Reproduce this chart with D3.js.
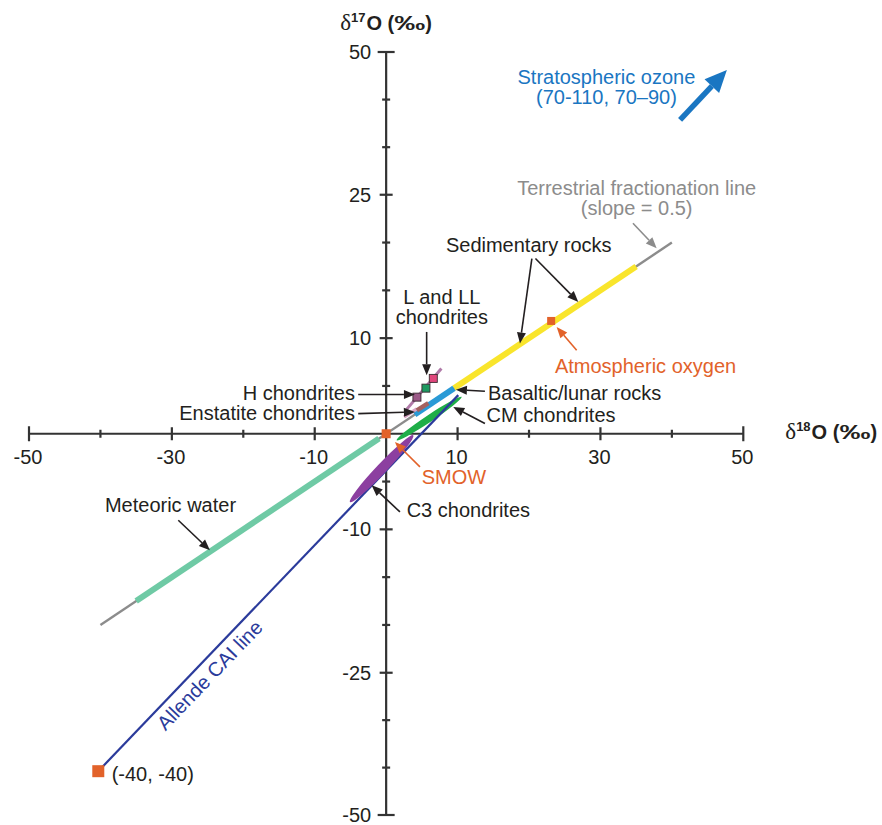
<!DOCTYPE html>
<html><head><meta charset="utf-8">
<script src="https://cdn.jsdelivr.net/npm/d3@7"></script>
<style>
body{margin:0;background:#fff}
svg{display:block}
text{font-family:"Liberation Sans",Arial,Helvetica,sans-serif}
</style>
</head><body>
<svg id="c" width="882" height="825"></svg>
<script>
// ---------- axis ticks ----------
const xMajorTicks = [-50, -30, -10, 10, 30, 50];
const xMinorTicks = [-40, -20, 20, 40];
const yMajorTicks = [-50, -25, -10, 10, 25, 50];
const yMinorTicks = [-41.67, -33.33, -20, -15, -5, 5, 15, 20, 33.33, 41.67];

// ---------- lines: [ [δ18O, δ17O], [δ18O, δ17O] ] ----------
const terrestrialLine = [[-40, -20], [40, 20]];
const meteoricWater = [[-35, -17.5], [-1, -0.5]];
const sedimentaryRocks = [[9.5, 4.75], [35, 17.5]];
const basalticLunar = [[4, 2], [9.5, 4.75]];
const allendeCAI = [[-40.3, -42.3], [10.1, 4.04]];
const enstatitePink = [[2.5, 1.75], [4.3, 2.6]];
const enstatiteBrown = [[4.3, 2.45], [5.9, 3.2]];
const ordinaryChondriteLine = [[2.87, 2.55], [7.73, 6.82]];
const cmChondrites = [[1.47, -0.68], [10.57, 3.86]];
const c3Chondrites = [[-5.07, -7.15], [3.8, -0.16]];
const ozoneArrow = [[41.15, 38.1], [47.7, 46.85]];

// ---------- points ----------
const orangePoints = [
  {name: "SMOW", x: 0, y: 0},
  {name: "Atmospheric oxygen", x: 23.1, y: 11.8},
  {name: "CAI end", x: -40.3, y: -42.3}
];
const chondritePoints = [
  {name: "H", x: 4.31, y: 3.83},
  {name: "L", x: 5.57, y: 4.77},
  {name: "LL", x: 6.6, y: 5.79}
];

// ---------- annotation labels (data coords) ----------
const labelTexts = [
  {t: ["Stratospheric ozone", "(70-110, 70–90)"], x: 30.84, y: 44.4, a: "middle", c: "ozone"},
  {t: ["Terrestrial fractionation line", "(slope = 0.5)"], x: 35.07, y: 24.95, a: "middle", c: "gray"},
  {t: ["Sedimentary rocks"], x: 8.37, y: 19.02, a: "start", c: "black"},
  {t: ["Atmospheric oxygen"], x: 23.63, y: 6.33, a: "start", c: "orange"},
  {t: ["L and LL", "chondrites"], x: 7.8, y: 13.62, a: "middle", c: "black"},
  {t: ["H chondrites"], x: -4.37, y: 3.58, a: "end", c: "black"},
  {t: ["Enstatite chondrites"], x: -4.37, y: 1.41, a: "end", c: "black"},
  {t: ["Basaltic/lunar rocks"], x: 14.25, y: 3.5, a: "start", c: "black"},
  {t: ["CM chondrites"], x: 14.06, y: 1.2, a: "start", c: "black"},
  {t: ["SMOW"], x: 4.97, y: -5.21, a: "start", c: "orange"},
  {t: ["C3 chondrites"], x: 2.87, y: -8.7, a: "start", c: "black"},
  {t: ["Meteoric water"], x: -39.37, y: -8.18, a: "start", c: "black"},
  {t: ["(-40, -40)"], x: -38.43, y: -43.96, a: "start", c: "black"}
];
const arrowList = [
  {p: [[20.4, 18.33], [18.73, 9.44]], c: "black"},
  {p: [[20.9, 18.33], [26.9, 13.79]], c: "black"},
  {p: [[26.67, 8.73], [23.87, 11.17]], c: "orange"},
  {p: [[5.67, 10.65], [5.67, 6.12]], c: "black"},
  {p: [[-3.91, 4.1], [4.03, 4.1]], c: "black"},
  {p: [[-3.91, 2.11], [4.03, 2.28]], c: "black"},
  {p: [[13.83, 4.45], [9.77, 4.6]], c: "black"},
  {p: [[13.83, 1.07], [9.39, 2.8]], c: "black"},
  {p: [[4.73, -3.47], [1.23, -0.86]], c: "orange"},
  {p: [[1.93, -8.18], [-2.03, -5.39]], c: "black"},
  {p: [[-29.1, -9.05], [-24.67, -12.19]], c: "black"},
  {p: [[34.55, 22.02], [37.87, 19.4]], c: "gray"}
];
const caiLabel = {t: "Allende CAI line", x: -24.0, y: -26.27};

// ---------- styles ----------
const COL = {
  black: "#231f20", gray: "#8c8c8c", orange: "#e2622a", ozone: "#1a76c2",
  teal: "#6fcaa5", yellow: "#f9e52c", basalt: "#2a9ad6", cai: "#2b3b9b",
  cm: "#1fae48", c3: "#8c3fa0", pink: "#d9a3c4", brown: "#a4625f", mauve: "#b07aa8",
  H: "#9c5a88", L: "#1e9960", LL: "#e0467c", axis: "#333"
};

const svg = d3.select("#c");
const x = d3.scaleLinear().domain([-50, 50]).range([29, 743.3]);
const y = d3.scaleLinear().domain([-50, -25, 25, 50]).range([815, 672.75, 194.75, 52]);
const x0 = x(0), y0 = y(0);

// ---------- axes ----------
const ax = svg.append("g").attr("stroke", COL.axis).attr("stroke-width", 2.2);
ax.append("line").attr("x1", x(-50)).attr("x2", x(50)).attr("y1", y0).attr("y2", y0);
ax.append("line").attr("x1", x0).attr("x2", x0).attr("y1", y(50)).attr("y2", y(-50));
xMajorTicks.forEach(v => {
  const h = Math.abs(v) === 50 ? 7.5 : 6.5;
  ax.append("line").attr("x1", x(v)).attr("x2", x(v)).attr("y1", y0 - h).attr("y2", y0 + h);
});
xMinorTicks.forEach(v => ax.append("line").attr("x1", x(v)).attr("x2", x(v)).attr("y1", y0 - 4).attr("y2", y0 + 4));
yMajorTicks.forEach(v => {
  const h = Math.abs(v) === 50 ? 8.5 : 6.5;
  ax.append("line").attr("y1", y(v)).attr("y2", y(v)).attr("x1", x0 - h).attr("x2", x0 + h);
});
yMinorTicks.forEach(v => ax.append("line").attr("y1", y(v)).attr("y2", y(v)).attr("x1", x0 - 4).attr("x2", x0 + 4));

const tl = svg.append("g").attr("fill", COL.black).attr("font-size", 20);
xMajorTicks.forEach(v => tl.append("text").attr("x", x(v) - 1).attr("y", y0 + 30).attr("text-anchor", "middle").text(String(v)));
yMajorTicks.forEach(v => tl.append("text").attr("x", x0 - 15).attr("y", y(v) + 7).attr("text-anchor", "end").text(String(v)));

function axisTitle(px, py, sup) {
  const t = svg.append("text").attr("x", px).attr("y", py).attr("fill", COL.black);
  t.append("tspan").attr("font-family", "'Liberation Serif','DejaVu Serif',serif").attr("font-size", 23).text("δ");
  t.append("tspan").attr("font-weight", "bold").attr("font-size", 13).attr("dy", -8).text(sup);
  t.append("tspan").attr("font-weight", "bold").attr("font-size", 20).attr("dy", 8).attr("dx", 1).text("O (");
  t.append("tspan").attr("font-weight", "bold").attr("font-size", 20).attr("dx", 0).attr("textLength", 31).attr("lengthAdjust", "spacingAndGlyphs").text("‰");
  t.append("tspan").attr("font-weight", "bold").attr("font-size", 20).text(")");
}
axisTitle(x(50) + 42, y0 + 5, "18");
axisTitle(x0 - 46, y(50) - 22, "17");

// ---------- marks ----------
const line = d3.line().x(d => x(d[0])).y(d => y(d[1]));
const marks = svg.append("g").attr("fill", "none").attr("stroke-linecap", "butt");
function seg(data, color, w) {
  marks.append("path").attr("d", line(data)).attr("stroke", color).attr("stroke-width", w);
}
function ell(data, color, w) {
  const [a, b] = data.map(d => [x(d[0]), y(d[1])]);
  const cx = (a[0] + b[0]) / 2, cy = (a[1] + b[1]) / 2;
  const len = Math.hypot(b[0] - a[0], b[1] - a[1]);
  const ang = Math.atan2(b[1] - a[1], b[0] - a[0]) * 180 / Math.PI;
  marks.append("ellipse").attr("cx", cx).attr("cy", cy).attr("rx", len / 2).attr("ry", w / 2)
    .attr("transform", `rotate(${ang},${cx},${cy})`).attr("fill", color).attr("stroke", "none");
}
seg(terrestrialLine, COL.gray, 2.4);
seg(meteoricWater, COL.teal, 6);
seg(sedimentaryRocks, COL.yellow, 6);
seg(basalticLunar, COL.basalt, 6);
ell(cmChondrites, COL.cm, 7);
seg(allendeCAI, COL.cai, 2.2);
ell(c3Chondrites, COL.c3, 10);
seg(enstatitePink, COL.pink, 3.5);
seg(enstatiteBrown, COL.brown, 4.5);
seg(ordinaryChondriteLine, COL.mauve, 3);

const sizes = {"SMOW": 9, "Atmospheric oxygen": 8, "CAI end": 12};
svg.append("g").selectAll("rect").data(orangePoints).join("rect")
  .attr("x", d => x(d.x) - sizes[d.name] / 2).attr("y", d => y(d.y) - sizes[d.name] / 2)
  .attr("width", d => sizes[d.name]).attr("height", d => sizes[d.name])
  .attr("fill", COL.orange);
svg.append("g").selectAll("rect").data(chondritePoints).join("rect")
  .attr("x", d => x(d.x) - 4).attr("y", d => y(d.y) - 4).attr("width", 8).attr("height", 8)
  .attr("fill", d => COL[d.name]).attr("stroke", "#3a2a30").attr("stroke-width", 0.9);

// ---------- arrows ----------
function arrow(p, color, w, hl, hw) {
  const [a, b] = p.map(d => [x(d[0]), y(d[1])]);
  const ang = Math.atan2(b[1] - a[1], b[0] - a[0]);
  const bx = b[0] - hl * Math.cos(ang), by = b[1] - hl * Math.sin(ang);
  svg.append("line").attr("x1", a[0]).attr("y1", a[1]).attr("x2", bx).attr("y2", by)
    .attr("stroke", color).attr("stroke-width", w);
  const nx = -Math.sin(ang) * hw, ny = Math.cos(ang) * hw;
  svg.append("path").attr("d", `M${b[0]},${b[1]}L${bx + nx},${by + ny}L${bx - nx},${by - ny}Z`).attr("fill", color);
}
arrowList.forEach(d => arrow(d.p, COL[d.c], 1.6, 11, 4.5));
arrow(ozoneArrow, COL.ozone, 5.5, 22, 10);

// ---------- labels ----------
labelTexts.forEach(d => {
  const t = svg.append("text").attr("x", x(d.x)).attr("y", y(d.y)).attr("text-anchor", d.a)
    .attr("font-size", 20).attr("fill", COL[d.c]);
  d.t.forEach((s, i) => t.append("tspan").attr("x", x(d.x)).attr("dy", i === 0 ? 0 : 20).text(s));
});
{
  const [a, b] = allendeCAI.map(d => [x(d[0]), y(d[1])]);
  const ang = Math.atan2(b[1] - a[1], b[0] - a[0]) * 180 / Math.PI;
  const px = x(caiLabel.x), py = y(caiLabel.y);
  svg.append("text").attr("x", px).attr("y", py).attr("text-anchor", "middle").attr("font-size", 20)
    .attr("fill", COL.cai).attr("transform", `rotate(${ang},${px},${py})`).text(caiLabel.t);
}
</script>
</body></html>
